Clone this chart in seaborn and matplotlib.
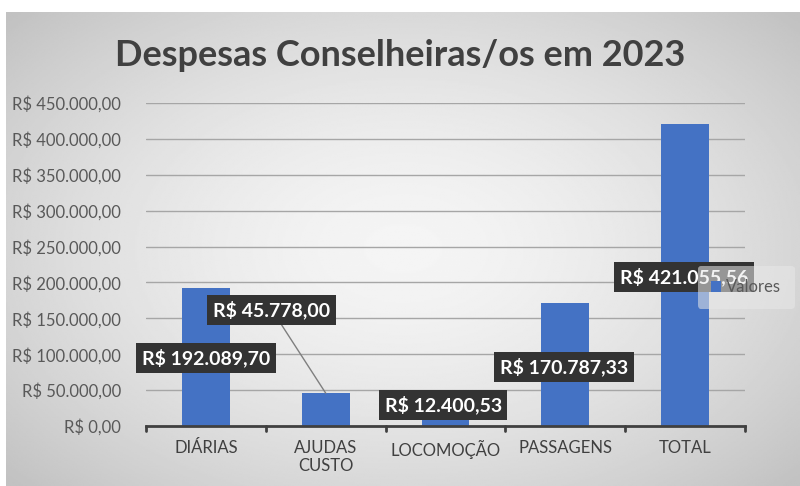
import numpy as np
import pandas as pd
import matplotlib.pyplot as plt
import seaborn as sns

sns.set_style('white')
plt.rcParams['font.family'] = ['Lato', 'DejaVu Sans']

# Data
categorias = ['DIÁRIAS', 'AJUDAS\nCUSTO', 'LOCOMOÇÃO', 'PASSAGENS', 'TOTAL']
valores = [192089.70, 45778.00, 12400.53, 170787.33, 421055.56]
rotulos = ['R$ 192.089,70', 'R$ 45.778,00', 'R$ 12.400,53', 'R$ 170.787,33', 'R$ 421.055,56']
yticks = list(range(0, 450001, 50000))

# label positions (Excel moved labels by hand)
label_pos = [(0.0, 95000), (0.55, 162000), (1.98, 29000), (2.99, 82000), (3.99, 207500)]

def brl(v):
    s = f'{v:,.2f}'.replace(',', 'X').replace('.', ',').replace('X', '.')
    return 'R$ ' + s

fig = plt.figure(figsize=(8, 4.86), dpi=100)
fig.patch.set_facecolor('white')

# gradient background
bg = fig.add_axes([6 / 800, 0, 794 / 800, 474 / 486], zorder=-10)
yy, xx = np.mgrid[-1:1:300j, -1:1:500j]
r = np.sqrt((xx * 0.85) ** 2 + (yy * 0.8) ** 2)
g = np.clip(0.96 - 0.16 * r ** 1.6, 0.76, 0.96)
bg.imshow(g, cmap='gray', vmin=0, vmax=1, aspect='auto', extent=[0, 1, 0, 1])
bg.axis('off')

ax = fig.add_axes([146 / 800, 1 - 426 / 486, 599 / 800, 323 / 486])
ax.set_facecolor('none')

df = pd.DataFrame({'cat': categorias, 'val': valores})
sns.barplot(data=df, x='cat', y='val', color='#4472C4', width=0.4,
            saturation=1, ax=ax, label='Valores', zorder=3, linewidth=0)

ax.set_ylim(0, 450000)
ax.set_xlim(-0.5, 4.5)
ax.set_yticks(yticks)
ax.set_yticklabels([brl(v) for v in yticks], color='#595959', fontsize=12)
ax.tick_params(axis='y', length=0, pad=18)
ax.yaxis.grid(True, color='#a6a6a6', linewidth=1, zorder=0)
ax.set_axisbelow(True)
ax.set_xlabel('')
ax.set_ylabel('')
ax.tick_params(axis='x', length=0, pad=10, labelsize=12, labelcolor='#404040')
for s in ['top', 'right', 'left']:
    ax.spines[s].set_visible(False)
ax.spines['bottom'].set_color('#404040')
ax.spines['bottom'].set_linewidth(2)
ax.spines['bottom'].set_zorder(4)
# category boundary tick marks
for b in np.arange(-0.5, 4.6, 1):
    ax.plot([b, b], [0, -7000], color='#404040', lw=2, clip_on=False, zorder=4)

box = dict(boxstyle='square,pad=0.3', facecolor='#333333', edgecolor='none')
for i, (txt, (lx, ly)) in enumerate(zip(rotulos, label_pos)):
    if i == 1:
        ax.annotate(txt, xy=(1, valores[1]), xytext=(lx, ly), ha='center', va='center',
                    color='white', fontsize=14, fontweight='bold', bbox=box, zorder=6,
                    arrowprops=dict(arrowstyle='-', color='#7f7f7f', lw=1,
                                    shrinkA=0, shrinkB=0))
    else:
        ax.text(lx, ly, txt, ha='center', va='center', color='white',
                fontsize=14, fontweight='bold', bbox=box, zorder=6)

leg = ax.legend(loc='upper left', bbox_to_anchor=(698 / 800, 1 - 266 / 486),
                bbox_transform=fig.transFigure, frameon=True, fontsize=12,
                handlelength=0.6, handleheight=0.6, handletextpad=0.3,
                borderpad=0.8, borderaxespad=0)
leg.get_frame().set_facecolor('#e8e8e8')
leg.get_frame().set_alpha(0.55)
leg.get_frame().set_edgecolor('none')
for t in leg.get_texts():
    t.set_color('#595959')
leg.set_zorder(7)

fig.text(0.5, 1 - 56 / 486, 'Despesas Conselheiras/os em 2023', ha='center', va='center',
         fontsize=26, fontweight='bold', color='#404040')

plt.savefig('out.png', dpi=100, facecolor='white')
plt.close()
